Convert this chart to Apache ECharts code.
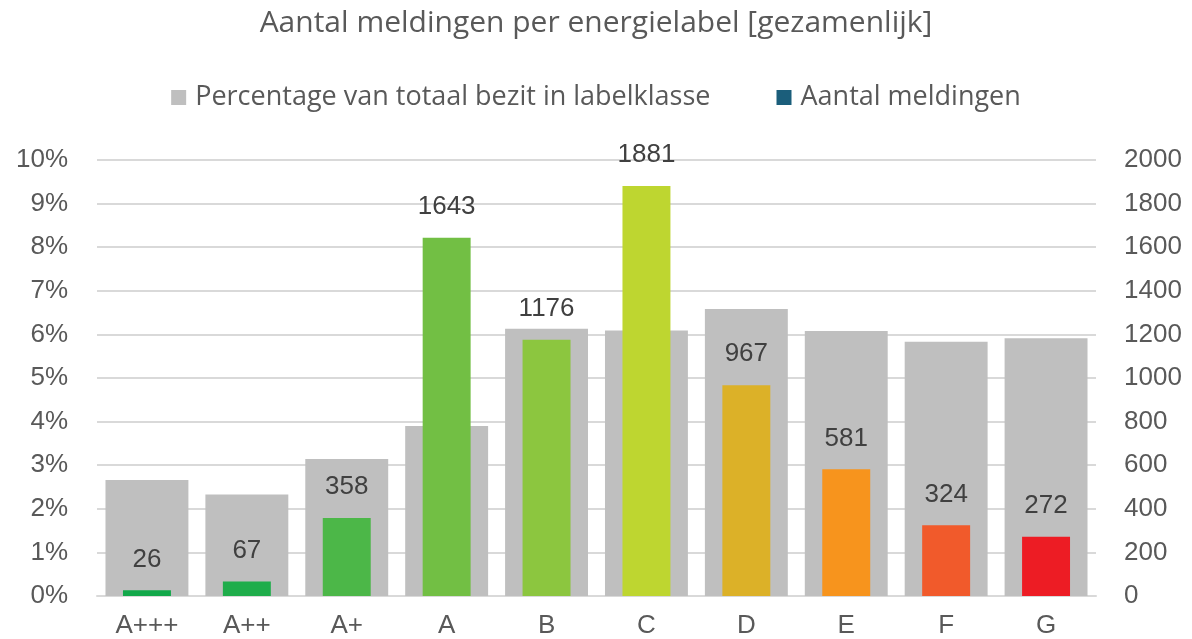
<!DOCTYPE html>
<html><head><meta charset="utf-8">
<script src="https://cdn.jsdelivr.net/npm/echarts@6/dist/echarts.min.js"></script>
<style>html,body{margin:0;padding:0;background:#fff}#c{width:1192px;height:639px}</style>
</head><body><div id="c"></div>
<script>
const categories = ['A+++','A++','A+','A','B','C','D','E','F','G'];
const percentageBezit = [2.66, 2.33, 3.14, 3.90, 6.13, 6.09, 6.58, 6.08, 5.83, 5.91];
const aantalMeldingen = [26, 67, 358, 1643, 1176, 1881, 967, 581, 324, 272];
const labelColors = ['#12a84a','#1fad4b','#4cb748','#72bf44','#8cc63f','#bed630','#dcb128','#f7941d','#f15a2b','#ed1c24'];
const leftTicks = [0,1,2,3,4,5,6,7,8,9,10];
const rightTicks = [0,200,400,600,800,1000,1200,1400,1600,1800,2000];

const FONT = 'Liberation Sans';
const TFONT = 'Open Sans';
const chart = echarts.init(document.getElementById('c'));
chart.setOption({
  animation: false,
  textStyle: {fontFamily: FONT},
  title: {text: 'Aantal meldingen per energielabel [gezamenlijk]', left: 'center', top: 3,
    textStyle: {fontFamily: TFONT, fontSize: 30, fontWeight: 'normal', color: '#595959'}},
  legend: {top: 79, left: 'center', itemGap: 66, itemWidth: 15, itemHeight: 15,
    icon: 'rect',
    textStyle: {fontFamily: TFONT, fontSize: 27, color: '#595959', padding: [0, 0, 0, 4]},
    data: ['Percentage van totaal bezit in labelklasse', 'Aantal meldingen']},
  grid: {left: 97, right: 96, top: 160, bottom: 43},
  xAxis: [
    {type: 'category', data: categories, axisTick: {show: false},
     axisLine: {lineStyle: {color: '#d9d9d9', width: 2}},
     axisLabel: {fontFamily: FONT, fontSize: 26, color: '#595959', margin: 17}},
    {type: 'category', data: categories, show: false}
  ],
  yAxis: [
    {type: 'value', min: leftTicks[0], max: leftTicks[leftTicks.length-1], interval: 1,
     axisLabel: {formatter: v => v + '%', fontFamily: FONT, fontSize: 26, color: '#595959', margin: 29},
     splitLine: {lineStyle: {color: '#d9d9d9', width: 2}}, axisLine: {show: false}, axisTick: {show: false}},
    {type: 'value', min: rightTicks[0], max: rightTicks[rightTicks.length-1], interval: 200,
     axisLabel: {formatter: v => String(v), fontFamily: FONT, fontSize: 26, color: '#595959', margin: 28},
     splitLine: {show: false}, axisLine: {show: false}, axisTick: {show: false}}
  ],
  series: [
    {name: 'Percentage van totaal bezit in labelklasse', type: 'bar', xAxisIndex: 0, yAxisIndex: 0,
     barWidth: '83%', itemStyle: {color: '#bfbfbf'}, data: percentageBezit, z: 1},
    {name: 'Aantal meldingen', type: 'bar', xAxisIndex: 1, yAxisIndex: 1,
     barWidth: '48%', itemStyle: {color: '#1b5e7b'}, z: 2,
     data: aantalMeldingen.map((v, i) => ({value: v, itemStyle: {color: labelColors[i]}})),
     label: {show: true, position: 'top', distance: 18, fontFamily: FONT, fontSize: 26, color: '#404040'}}
  ]
});
</script></body></html>
